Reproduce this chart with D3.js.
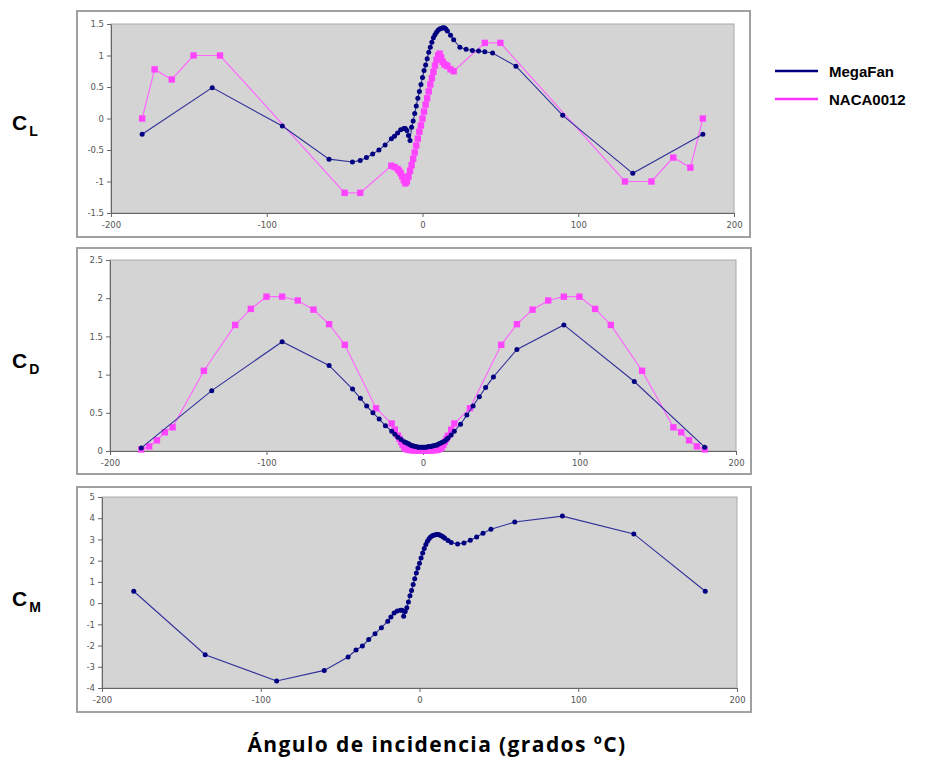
<!DOCTYPE html>
<html lang="es">
<head>
<meta charset="UTF-8">
<title>MegaFan vs NACA0012</title>
<style>
  body { margin: 0; background: #fff; }
  svg { display: block; }
  .tick text { font-family: "DejaVu Sans", sans-serif; font-size: 8.5px; fill: #555; }
  .tick line, .domain { stroke: #666; }
  .coef { font-family: "Liberation Sans", Arial, sans-serif; font-weight: bold; fill: #000; }
  .legend text { font-family: "Liberation Sans", Arial, sans-serif; font-weight: bold; font-size: 15px; fill: #000; }
</style>
</head>
<body>
<svg id="chart" width="941" height="758"></svg>
<script src="https://d3js.org/d3.v7.min.js"></script>
<script>
// ---- data ----
const xTicks = [-200, -100, 0, 100, 200];
const clTicks = [-1.5, -1, -0.5, 0, 0.5, 1, 1.5];
const cdTicks = [0, 0.5, 1, 1.5, 2, 2.5];
const cmTicks = [-4, -3, -2, -1, 0, 1, 2, 3, 4, 5];

// MegaFan (same angles for CL, CD, CM)
const megaX = [-180, -135, -90, -60, -45, -40, -36, -32, -28, -24, -20, -18, -16, -14, -12, -11, -10, -9, -8, -7,
  -6, -5, -4, -3, -2, -1, 0, 1, 2, 3, 4, 5, 6, 7, 8, 9, 10, 11, 12, 13, 14, 15, 16, 18, 20,
  24, 28, 32, 36, 40, 45, 60, 90, 135, 180];
const megaCL = [-0.25, 0.49, -0.12, -0.645, -0.69, -0.665, -0.62, -0.565, -0.50, -0.42, -0.32, -0.28, -0.23, -0.18, -0.16, -0.16, -0.19, -0.27, -0.35, -0.14,
  -0.04, 0.08, 0.20, 0.32, 0.43, 0.54, 0.65, 0.76, 0.85, 0.95, 1.05, 1.13, 1.21, 1.28, 1.33, 1.37, 1.40, 1.42, 1.43, 1.44, 1.44, 1.42, 1.39, 1.32, 1.25,
  1.13, 1.10, 1.08, 1.07, 1.06, 1.04, 0.83, 0.05, -0.87, -0.25];
const megaCD = [0.04, 0.79, 1.43, 1.12, 0.81, 0.69, 0.59, 0.50, 0.42, 0.33, 0.26, 0.22, 0.18, 0.15, 0.12, 0.11, 0.10, 0.09, 0.08, 0.07,
  0.065, 0.06, 0.055, 0.05, 0.05, 0.05, 0.05, 0.05, 0.05, 0.055, 0.06, 0.06, 0.065, 0.07, 0.075, 0.08, 0.09, 0.10, 0.11, 0.12, 0.13, 0.15, 0.17, 0.21, 0.26,
  0.35, 0.47, 0.59, 0.71, 0.83, 0.97, 1.33, 1.65, 0.91, 0.05];
const megaCM = [0.56, -2.43, -3.67, -3.17, -2.54, -2.21, -2.02, -1.72, -1.44, -1.16, -0.85, -0.65, -0.47, -0.37, -0.34, -0.34, -0.62, -0.40, -0.22, 0.05,
  0.35, 0.60, 0.88, 1.15, 1.42, 1.66, 1.88, 2.12, 2.36, 2.57, 2.76, 2.92, 3.03, 3.12, 3.17, 3.20, 3.22, 3.23, 3.23, 3.20, 3.16, 3.12, 3.06, 2.95, 2.86,
  2.78, 2.83, 2.96, 3.12, 3.29, 3.48, 3.82, 4.10, 3.26, 0.56];

// NACA0012 lift
const nacaClX = [-180, -172, -161, -147, -130, -50, -40, -20, -18, -16, -15, -14, -13, -12, -11, -10, -9, -8, -7, -6, -5, -4, -3, -2, -1,
  0, 1, 2, 3, 4, 5, 6, 7, 8, 9, 10, 11, 12, 13, 14, 15, 16, 18, 20, 40, 50, 130, 147, 161, 172, 180];
const nacaCL = [0, 0.78, 0.62, 1.0, 1.0, -1.18, -1.18, -0.75, -0.77, -0.80, -0.83, -0.87, -0.92, -0.98, -1.03, -1.0, -0.92, -0.83, -0.74, -0.64, -0.54, -0.43, -0.32, -0.21, -0.11,
  0, 0.11, 0.22, 0.32, 0.43, 0.54, 0.64, 0.74, 0.84, 0.93, 1.0, 1.03, 0.97, 0.90, 0.86, 0.85, 0.83, 0.78, 0.75, 1.20, 1.20, -1.0, -1.0, -0.62, -0.78, 0];

// NACA0012 drag
const nacaCdX = [-180, -175, -170, -165, -160, -140, -120, -110, -100, -90, -80, -70, -60, -50, -30, -20, -18, -16, -15, -14, -13, -12, -11, -10,
  -9, -8, -7, -6, -5, -4, -3, -2, -1, 0, 1, 2, 3, 4, 5, 6, 7, 8, 9,
  10, 11, 12, 13, 14, 15, 16, 18, 20, 30, 50, 60, 70, 80, 90, 100, 110, 120, 140, 160, 165, 170, 175, 180];
const nacaCD = [0.02, 0.06, 0.14, 0.245, 0.31, 1.05, 1.65, 1.86, 2.02, 2.02, 1.97, 1.85, 1.66, 1.39, 0.56, 0.36, 0.28, 0.20, 0.16, 0.12, 0.08, 0.05, 0.03, 0.02,
  0.015, 0.013, 0.011, 0.01, 0.009, 0.008, 0.008, 0.008, 0.008, 0.008, 0.008, 0.008, 0.008, 0.008, 0.009, 0.01, 0.011, 0.013, 0.015,
  0.02, 0.03, 0.05, 0.08, 0.12, 0.16, 0.20, 0.28, 0.36, 0.56, 1.39, 1.66, 1.85, 1.97, 2.02, 2.02, 1.86, 1.65, 1.05, 0.31, 0.245, 0.14, 0.06, 0.02];

const seriesNames = ["MegaFan", "NACA0012"];
const colors = { MegaFan: { line: "#30309a", dot: "#000080" }, NACA0012: { line: "#ff66ff", dot: "#ff44ff" } };

const svg = d3.select("#chart");

function zip(xs, ys) { return xs.map((x, i) => ({ x: x, y: ys[i] })); }

function panel(cfg) {
  const g = svg.append("g");
  g.append("rect")
    .attr("x", cfg.frame[0]).attr("y", cfg.frame[1])
    .attr("width", cfg.frame[2] - cfg.frame[0]).attr("height", cfg.frame[3] - cfg.frame[1])
    .attr("fill", "#fff").attr("stroke", "#a0a0a0").attr("stroke-width", 2);

  const x = d3.scaleLinear().domain([-200, 200]).range([cfg.plot[0], cfg.plot[2]]);
  const y = d3.scaleLinear().domain(cfg.yDomain).range([cfg.plot[3], cfg.plot[1]]);

  g.append("rect")
    .attr("x", cfg.plot[0]).attr("y", cfg.plot[1])
    .attr("width", cfg.plot[2] - cfg.plot[0]).attr("height", cfg.plot[3] - cfg.plot[1])
    .attr("fill", "#d4d4d4").attr("stroke", "#aaa").attr("stroke-width", 1);

  g.append("g")
    .attr("transform", `translate(0,${cfg.plot[3]})`)
    .call(d3.axisBottom(x).tickValues(xTicks).tickSize(4).tickSizeOuter(0).tickFormat(d => String(d)))
    .call(a => a.selectAll("text").attr("dy", "0.9em"));

  g.append("g")
    .attr("transform", `translate(${cfg.plot[0]},0)`)
    .call(d3.axisLeft(y).tickValues(cfg.yTicks).tickSize(4).tickSizeOuter(0).tickFormat(d => String(d)));

  const line = d3.line().x(d => x(d.x)).y(d => y(d.y));

  cfg.series.forEach(s => {
    const c = colors[s.name];
    g.append("path").datum(s.data)
      .attr("fill", "none").attr("stroke", c.line)
      .attr("stroke-width", s.name === "MegaFan" ? 1.1 : 1.2)
      .attr("d", line);
    if (s.name === "MegaFan") {
      g.selectAll(null).data(s.data).join("circle")
        .attr("cx", d => x(d.x)).attr("cy", d => y(d.y))
        .attr("r", 2.5).attr("fill", c.dot);
    } else {
      g.selectAll(null).data(s.data).join("rect")
        .attr("x", d => x(d.x) - 3.2).attr("y", d => y(d.y) - 3.2)
        .attr("width", 6.4).attr("height", 6.4).attr("fill", c.dot);
    }
  });

  const lab = g.append("text").attr("class", "coef").attr("x", cfg.label[0]).attr("y", cfg.label[1]);
  lab.append("tspan").attr("font-size", 21).text("C");
  lab.append("tspan").attr("font-size", 14).attr("dx", 2).attr("dy", 6).text(cfg.sub);
}

panel({
  frame: [77, 11, 750, 237], plot: [111, 24, 734, 213],
  yDomain: [-1.5, 1.5], yTicks: clTicks, sub: "L", label: [12, 130],
  series: [
    { name: "NACA0012", data: zip(nacaClX, nacaCL) },
    { name: "MegaFan", data: zip(megaX, megaCL) }
  ]
});

panel({
  frame: [77, 248, 751, 474], plot: [110, 260, 736, 451],
  yDomain: [0, 2.5], yTicks: cdTicks, sub: "D", label: [12, 368],
  series: [
    { name: "NACA0012", data: zip(nacaCdX, nacaCD) },
    { name: "MegaFan", data: zip(megaX, megaCD) }
  ]
});

panel({
  frame: [77, 487, 751, 712], plot: [102, 497, 737, 688],
  yDomain: [-4, 5], yTicks: cmTicks, sub: "M", label: [12, 606],
  series: [
    { name: "MegaFan", data: zip(megaX, megaCM) }
  ]
});

// legend
const legend = svg.append("g").attr("class", "legend");
seriesNames.forEach((n, i) => {
  const yy = 71 + i * 28;
  legend.append("line").attr("x1", 775).attr("x2", 818).attr("y1", yy).attr("y2", yy)
    .attr("stroke", n === "MegaFan" ? "#000080" : "#ff33ff").attr("stroke-width", 2.5);
  legend.append("text").attr("x", 829).attr("y", yy + 6).text(n);
});

// x axis title
svg.append("text")
  .attr("x", 437).attr("y", 752).attr("text-anchor", "middle")
  .attr("font-family", "'Open Sans', sans-serif").attr("font-weight", "bold").attr("font-size", 21)
  .attr("letter-spacing", 1.4)
  .text("Ángulo de incidencia (grados ºC)");
</script>
</body>
</html>
